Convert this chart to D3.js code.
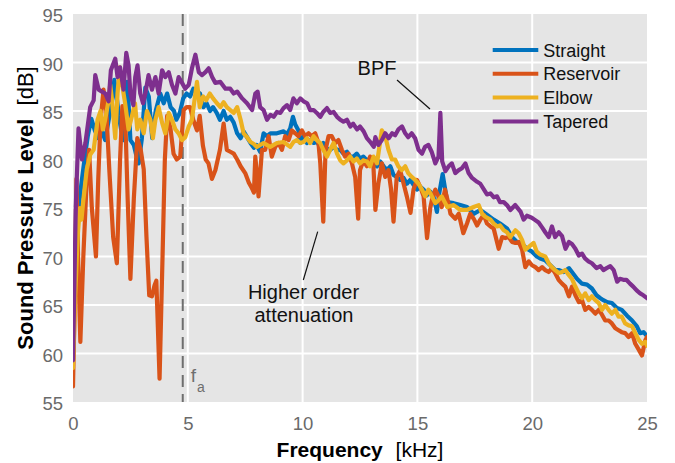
<!DOCTYPE html>
<html>
<head>
<meta charset="utf-8">
<script src="https://cdn.jsdelivr.net/npm/d3@7"></script>
<style>
  body { margin: 0; background: #fff; }
  svg { display: block; font-family: "Liberation Sans", Arial, Helvetica, sans-serif; }
</style>
</head>
<body>
<div id="chart"></div>
<script>
// [frequency kHz, SPL dB]
const straight = [[0,64],[0.1,68],[0.2,74],[0.36,77.4],[0.5,80],[0.65,82.5],[0.8,84.2],[0.95,83],[1.1,82.2],[1.25,83],[1.4,82],[1.55,84],[1.7,86],[1.8,88.2],[1.9,86.5],[2.0,84.5],[2.1,83],[2.2,82],[2.35,88],[2.4,86.8],[2.5,82],[2.65,81.5],[2.75,80.5],[2.86,79.6],[3.0,82.2],[3.15,87.4],[3.3,86.5],[3.45,82.2],[3.6,85],[3.8,86.8],[3.95,85.8],[4.1,86.8],[4.25,85.4],[4.4,85],[4.5,84.1],[4.65,84.8],[4.8,86.3],[4.95,86.8],[5.1,86.5],[5.24,87.3],[5.4,87],[5.53,86.8],[5.68,85.4],[5.82,85.8],[5.97,85],[6.1,85.4],[6.26,84.8],[6.4,84.1],[6.56,85],[6.7,84.1],[6.85,84.4],[7.0,83.8],[7.15,82.7],[7.3,82.2],[7.43,82.9],[7.58,82.3],[7.73,81.7],[7.88,81.2],[8.0,81.5],[8.15,80.8],[8.3,82.7],[8.45,82.4],[8.6,82.7],[8.88,82.7],[9.17,82.9],[9.32,82.6],[9.46,83.2],[9.58,84.4],[9.68,83.6],[9.82,83],[9.9,81.7],[10.04,82.4],[10.19,81.7],[10.33,82],[10.48,81.7],[10.62,81.8],[10.77,81.3],[10.9,81.7],[11.06,81.1],[11.2,81],[11.35,81.3],[11.5,81],[11.64,81],[11.78,80.6],[11.93,80.8],[12.07,80.3],[12.22,80.3],[12.36,80.6],[12.5,80.1],[12.65,80.3],[12.8,79.9],[12.94,80.1],[13.09,79.6],[13.24,79.3],[13.38,79.8],[13.53,79.3],[13.67,78.9],[13.82,79.3],[13.96,78.4],[14.1,78.2],[14.25,77.9],[14.4,78.1],[14.54,77.5],[14.69,77.9],[14.83,77.4],[14.98,76.9],[15.12,77.2],[15.27,76.9],[15.41,76.3],[15.56,76.7],[15.7,76.2],[15.85,74.6],[15.95,76.5],[16.1,78.5],[16.3,75.6],[16.58,75.5],[16.87,75.3],[17.16,75.1],[17.45,74.4],[17.74,74.8],[18.03,74.3],[18.32,73.8],[18.6,73.4],[18.9,72.9],[19.12,72],[19.34,71.5],[19.56,71.3],[19.77,70.8],[19.99,70.5],[20.2,70],[20.35,69.8],[20.57,69.6],[20.79,69.1],[21.0,68.6],[21.15,68.6],[21.37,68.4],[21.6,68.8],[21.73,68.4],[21.95,67.7],[22.17,67.2],[22.39,67.1],[22.6,66.7],[22.8,66],[22.97,65.7],[23.1,65.5],[23.26,65.3],[23.47,65.2],[23.69,64.7],[23.9,64.5],[24.13,63.9],[24.35,63.4],[24.56,62.8],[24.7,62.1],[24.85,62.2],[25,61.8]];

const reservoir = [[0,56.6],[0.08,66],[0.15,78],[0.22,70],[0.32,61.2],[0.45,70],[0.6,78],[0.7,81],[0.82,75],[1.0,70],[1.1,78],[1.2,84],[1.33,87.2],[1.45,85],[1.58,79],[1.75,72],[1.91,69.3],[2.05,80],[2.15,85.5],[2.28,84],[2.38,76],[2.5,67.7],[2.65,76],[2.8,82.2],[2.95,81],[3.08,79],[3.2,72],[3.32,66],[3.44,65.9],[3.55,67],[3.63,67.5],[3.77,57.4],[3.9,70],[4.0,80],[4.1,84.5],[4.24,83.3],[4.38,80.6],[4.52,80],[4.67,80.3],[4.82,85.1],[4.95,85.4],[5.1,85.4],[5.25,84],[5.4,83],[5.52,84.5],[5.66,81.4],[5.78,80],[5.9,79.6],[6.05,78],[6.2,78.9],[6.4,81],[6.56,83.7],[6.7,81],[6.85,80.8],[7.0,80.6],[7.15,80],[7.3,79.3],[7.5,78.6],[7.66,77.6],[7.8,77],[7.88,76.6],[7.94,80.3],[8.02,78.3],[8.08,76.2],[8.23,81],[8.37,81],[8.52,82.4],[8.66,80.3],[8.81,81.3],[8.95,81.7],[9.1,81],[9.24,82.4],[9.39,82],[9.53,83],[9.68,82.7],[9.82,82.4],[9.97,83],[10.11,82.4],[10.26,82.7],[10.4,82.4],[10.55,82.7],[10.69,81.7],[10.77,79.6],[10.9,73.6],[11.0,81],[11.13,82.4],[11.27,82.4],[11.42,81.7],[11.56,82],[11.71,81],[11.85,80.3],[12.0,80.6],[12.15,79.6],[12.29,78.2],[12.42,73.9],[12.5,78.9],[12.65,79.9],[12.8,79.3],[12.94,80.3],[13.08,79.6],[13.17,74.8],[13.3,77.5],[13.45,79.6],[13.6,78.2],[13.74,78.9],[13.85,77],[13.96,73.6],[14.1,78.2],[14.25,78.9],[14.4,77.5],[14.54,76.2],[14.7,74.5],[14.83,76.9],[14.98,77.9],[15.12,77.2],[15.27,76.2],[15.42,71.9],[15.56,75],[15.63,75.8],[15.78,76.9],[15.92,76.2],[16.06,75.1],[16.2,76.9],[16.35,75.5],[16.44,74.4],[16.65,73.9],[16.8,74.4],[17.0,72.4],[17.16,73.4],[17.3,74.4],[17.45,73.9],[17.6,73.2],[17.74,73.8],[17.89,74.3],[18.03,73.4],[18.18,73.1],[18.32,72.9],[18.54,70.8],[18.69,72],[18.83,71.9],[18.98,72],[19.12,71.5],[19.27,71.4],[19.41,71.5],[19.56,70.7],[19.7,68.9],[19.85,69.5],[19.99,69.1],[20.14,68.9],[20.28,68.6],[20.43,68.9],[20.57,68.6],[20.72,68.4],[20.86,68.8],[21.0,68.3],[21.15,67.6],[21.3,67.2],[21.44,66.9],[21.6,65.9],[21.73,66.9],[21.88,66],[22.03,65.3],[22.17,65.5],[22.31,64.5],[22.46,64.8],[22.6,64.5],[22.75,64.1],[22.9,64.5],[23.04,64],[23.18,63.4],[23.33,63.4],[23.47,63.1],[23.62,62.6],[23.76,62.4],[23.9,62.2],[24.05,62.1],[24.2,61.7],[24.35,62.1],[24.49,61],[24.64,60.4],[24.78,59.8],[24.93,61.4],[25,61.7]];

const elbow = [[0,58.5],[0.1,66],[0.2,72],[0.3,75],[0.37,73.8],[0.45,75.8],[0.6,79],[0.75,80.5],[0.9,81],[1.07,84.1],[1.2,85],[1.3,83.1],[1.4,84.1],[1.55,86.1],[1.62,87.7],[1.7,86.1],[1.84,82.2],[1.94,86.8],[2.03,89.5],[2.12,88],[2.27,85.8],[2.42,83.1],[2.56,84.4],[2.7,85.8],[2.8,83.1],[2.93,84.1],[3.08,82.7],[3.22,85],[3.37,84.1],[3.48,82.2],[3.59,84.1],[3.73,85.4],[3.88,83.8],[4.02,82.7],[4.17,84.8],[4.31,84.1],[4.46,83.1],[4.6,82.7],[4.75,82],[4.89,82.3],[5.04,83.4],[5.18,84.1],[5.33,86.8],[5.4,88],[5.52,85.4],[5.67,86.5],[5.8,86.1],[5.96,86.8],[6.1,86.3],[6.27,85.8],[6.42,85.4],[6.56,85.9],[6.7,85.4],[6.85,85.1],[7.0,84.8],[7.15,85.4],[7.3,84.1],[7.43,82.7],[7.58,82.3],[7.73,81.8],[7.88,81.6],[8.01,81.3],[8.3,81.7],[8.59,81.3],[8.88,81.7],[9.17,81.8],[9.46,81.3],[9.6,81.8],[9.75,82],[9.9,81.7],[10.04,81.8],[10.19,82.2],[10.33,81.7],[10.48,82.4],[10.62,82],[10.77,81.7],[10.9,81],[11.06,80.3],[11.2,81],[11.35,81.7],[11.5,80.6],[11.64,79.9],[11.78,79.6],[11.93,79.9],[12.07,80.3],[12.22,79.8],[12.36,80.1],[12.5,79.6],[12.65,79.9],[12.8,79.8],[12.94,79.3],[13.09,80.3],[13.24,79.6],[13.45,83],[13.6,82.4],[13.74,81],[13.89,80],[14.03,80],[14.17,79.3],[14.32,78.9],[14.47,79.3],[14.6,78.6],[14.75,78.2],[14.9,77.9],[15.05,77.5],[15.2,76.9],[15.34,76.2],[15.48,76.9],[15.63,76.2],[15.78,75.5],[15.92,75.8],[16.06,76.2],[16.3,75.1],[16.58,75.3],[16.87,74.8],[17.16,74.8],[17.45,75.1],[17.67,75.3],[17.82,74.4],[17.96,74.1],[18.18,73.8],[18.32,73.4],[18.47,73.1],[18.6,73.2],[18.76,72.7],[18.9,72.5],[19.05,72],[19.27,72.7],[19.41,72.4],[19.56,71.7],[19.7,70.7],[19.85,71],[20.06,71.4],[20.2,70.5],[20.35,70.2],[20.57,70],[20.72,69.3],[20.86,68.9],[21.0,68.6],[21.15,68.3],[21.3,68.4],[21.44,68.6],[21.59,68.1],[21.73,67.7],[21.88,66.9],[22.03,66.2],[22.17,65.7],[22.31,66.2],[22.46,65.5],[22.6,65.9],[22.75,65.5],[22.9,65.2],[23.04,64.5],[23.18,65],[23.33,64.5],[23.47,64.1],[23.62,64.5],[23.76,63.8],[23.9,63.8],[24.05,63.1],[24.2,62.9],[24.35,62.8],[24.49,62.1],[24.64,61.4],[24.78,61],[24.93,61.2],[25,60.8]];

const tapered = [[0,59.3],[0.12,75],[0.24,83.2],[0.39,80],[0.54,81.7],[0.75,85.4],[0.9,86.1],[0.97,88.7],[1.12,87.2],[1.26,87],[1.41,86.8],[1.55,86],[1.65,89.2],[1.84,90.4],[1.94,88.5],[2.05,89.5],[2.2,87.2],[2.32,91],[2.42,89.7],[2.5,86.8],[2.63,85.6],[2.71,88.5],[2.81,89.7],[2.93,86.8],[3.05,85.8],[3.15,86.8],[3.29,88.7],[3.44,87.2],[3.59,88.5],[3.73,86.8],[3.88,89.2],[4.02,88.5],[4.17,89],[4.31,87.7],[4.46,86.8],[4.6,88.5],[4.75,87.9],[4.89,87.3],[5.04,87.7],[5.18,89.4],[5.33,90.8],[5.48,89],[5.62,88.7],[5.77,89],[5.91,89.4],[6.06,88.5],[6.2,87.9],[6.42,88],[6.64,87.3],[6.85,87.3],[7.0,86.8],[7.15,87],[7.37,86.3],[7.58,85.8],[7.8,85.1],[7.94,86.8],[8.04,87],[8.15,85.4],[8.3,85.1],[8.45,84.1],[8.6,84.6],[8.74,84.4],[8.88,84.9],[9.03,84.8],[9.17,85.3],[9.32,85.6],[9.46,85.1],[9.6,86.3],[9.75,85.8],[9.9,86.3],[10.04,86],[10.2,85.8],[10.33,85.1],[10.48,85.1],[10.62,84.8],[10.77,84.4],[10.9,84.9],[11.06,85.3],[11.2,84.8],[11.35,84.9],[11.5,84.4],[11.64,84.1],[11.78,83.9],[11.93,84.1],[12.08,83.4],[12.2,83.7],[12.37,83.1],[12.5,83.4],[12.66,82.9],[12.8,82.2],[12.95,81.8],[13.1,81.3],[13.17,82.3],[13.3,81.5],[13.45,82],[13.6,82.7],[13.75,82.2],[13.9,82.7],[14.03,82.5],[14.17,83.1],[14.33,83.4],[14.47,82.7],[14.6,82.3],[14.75,82.7],[14.9,82.2],[15.05,81],[15.2,80.6],[15.33,81.3],[15.48,81.5],[15.62,80.8],[15.78,79.6],[15.92,80.3],[16.0,84.8],[16.08,79.8],[16.22,78.8],[16.36,79.3],[16.5,79.6],[16.65,78.6],[16.8,78.9],[16.94,79.1],[17.09,79.6],[17.23,78.6],[17.38,78.1],[17.6,77.7],[17.74,77.5],[17.9,76.9],[18.03,76.4],[18.18,76.5],[18.33,76.1],[18.47,76.2],[18.6,75.6],[18.76,75.6],[18.9,75.3],[19.05,74.8],[19.26,75.3],[19.5,74.6],[19.63,73.8],[19.77,74.2],[19.98,74],[20.1,73.8],[20.28,73.5],[20.43,73],[20.57,72.5],[20.72,72],[20.86,73.1],[21.0,72],[21.16,72.5],[21.3,72.1],[21.45,70.8],[21.6,71.5],[21.73,71.3],[21.88,70.8],[22.03,70.1],[22.17,70.3],[22.3,69.8],[22.45,69.5],[22.6,69.3],[22.8,68.8],[22.97,69],[23.1,68.6],[23.24,68.8],[23.4,69],[23.55,68.6],[23.7,67.4],[23.82,67.7],[23.97,67.6],[24.1,67.6],[24.26,67.2],[24.4,66.9],[24.55,66.5],[24.7,66.2],[24.84,66],[25,65.7]];

const seriesNames = ["Straight", "Reservoir", "Elbow", "Tapered"];
const seriesColors = ["#0072BD", "#D95319", "#EDB120", "#7E2F8E"];
const xTicks = [0, 5, 10, 15, 20, 25];
const yTicks = [55, 60, 65, 70, 75, 80, 85, 90, 95];
const fa = 4.78;

const W = 675, H = 463;
const margin = { top: 14, right: 28, bottom: 61, left: 73 };
const width = W - margin.left - margin.right;
const height = H - margin.top - margin.bottom;

const svg = d3.select("#chart").append("svg")
  .attr("width", W).attr("height", H);
const g = svg.append("g").attr("transform", `translate(${margin.left},${margin.top})`);

const x = d3.scaleLinear().domain([0, 25]).range([0, width]);
const y = d3.scaleLinear().domain([55, 95]).range([height, 0]);

g.append("rect").attr("width", width).attr("height", height).attr("fill", "#e5e5e5");

// grid
g.selectAll(".gx").data(xTicks.slice(1, -1)).join("line")
  .attr("x1", d => x(d)).attr("x2", d => x(d)).attr("y1", 0).attr("y2", height)
  .attr("stroke", "#fff").attr("stroke-width", 2);
g.selectAll(".gy").data(yTicks.slice(1, -1)).join("line")
  .attr("y1", d => y(d)).attr("y2", d => y(d)).attr("x1", 0).attr("x2", width)
  .attr("stroke", "#fff").attr("stroke-width", 2);

// axes (labels only, no domain line)
const xAxis = g.append("g").attr("transform", `translate(0,${height})`)
  .call(d3.axisBottom(x).tickValues(xTicks).tickSize(0).tickPadding(15));
const yAxis = g.append("g")
  .call(d3.axisLeft(y).tickValues(yTicks).tickSize(0).tickPadding(10));
[xAxis, yAxis].forEach(a => {
  a.select(".domain").remove();
  a.selectAll("text").attr("fill", "#6a6a6a").attr("font-size", 18.5)
    .attr("font-family", "Liberation Sans, Arial, sans-serif");
});
yAxis.selectAll("text").attr("dy", "0.42em");

// dashed f_a line
g.append("line")
  .attr("x1", x(fa)).attr("x2", x(fa)).attr("y1", 0).attr("y2", height)
  .attr("stroke", "#6e6e6e").attr("stroke-width", 2).attr("stroke-dasharray", "12,7");
const faText = g.append("text").attr("x", x(fa) + 8).attr("y", y(55) - 20)
  .attr("fill", "#6e6e6e").attr("font-size", 19);
faText.append("tspan").text("f");
faText.append("tspan").attr("font-size", 14).attr("dy", 10).attr("dx", 1).text("a");

// series
g.append("clipPath").attr("id", "clip").append("rect").attr("width", width).attr("height", height);
const line = d3.line().x(d => x(d[0])).y(d => y(d[1]));
const allSeries = [straight, reservoir, elbow, tapered];
g.append("g").attr("clip-path", "url(#clip)")
  .selectAll("path").data(allSeries).join("path")
  .attr("d", line)
  .attr("fill", "none")
  .attr("stroke", (d, i) => seriesColors[i])
  .attr("stroke-width", 4.2)
  .attr("stroke-linejoin", "round")
  .attr("stroke-linecap", "round");

// annotations
g.append("text").attr("x", 377 - margin.left).attr("y", 75 - margin.top)
  .attr("text-anchor", "middle").attr("font-size", 20).attr("fill", "#111")
  .text("BPF");
g.append("line")
  .attr("x1", 397 - margin.left).attr("y1", 80 - margin.top)
  .attr("x2", 430 - margin.left).attr("y2", 109 - margin.top)
  .attr("stroke", "#111").attr("stroke-width", 1.2);

const hoa = g.append("text").attr("text-anchor", "middle").attr("font-size", 20).attr("fill", "#111");
hoa.append("tspan").attr("x", 303.5 - margin.left).attr("y", 299 - margin.top).text("Higher order");
hoa.append("tspan").attr("x", 304 - margin.left).attr("y", 321.5 - margin.top).text("attenuation");
g.append("line")
  .attr("x1", 303.3 - margin.left).attr("y1", 280 - margin.top)
  .attr("x2", 317.7 - margin.left).attr("y2", 231.7 - margin.top)
  .attr("stroke", "#111").attr("stroke-width", 1.2);

// legend
const legend = g.append("g").attr("transform", `translate(${492.7 - margin.left},${50 - margin.top})`);
seriesNames.forEach((name, i) => {
  const row = legend.append("g").attr("transform", `translate(0,${i * 23.8})`);
  row.append("line").attr("x1", 0).attr("x2", 45.6).attr("y1", 0).attr("y2", 0)
    .attr("stroke", seriesColors[i]).attr("stroke-width", 4);
  row.append("text").attr("x", 50.6).attr("y", 6.5).attr("font-size", 18).attr("fill", "#111").text(name);
});

// axis titles
const xt = svg.append("text").attr("x", margin.left + width / 2).attr("y", 457)
  .attr("text-anchor", "middle").attr("font-size", 21).attr("fill", "#000");
xt.append("tspan").attr("font-weight", "bold").text("Frequency");
xt.append("tspan").attr("dx", 7).text(" [kHz]");

const yt = svg.append("text")
  .attr("transform", `translate(33,${margin.top + height / 2}) rotate(-90)`)
  .attr("text-anchor", "middle").attr("font-size", 22).attr("fill", "#000");
yt.append("tspan").attr("font-weight", "bold").text("Sound Pressure Level");
yt.append("tspan").attr("dx", 7).text(" [dB]");
</script>
</body>
</html>
